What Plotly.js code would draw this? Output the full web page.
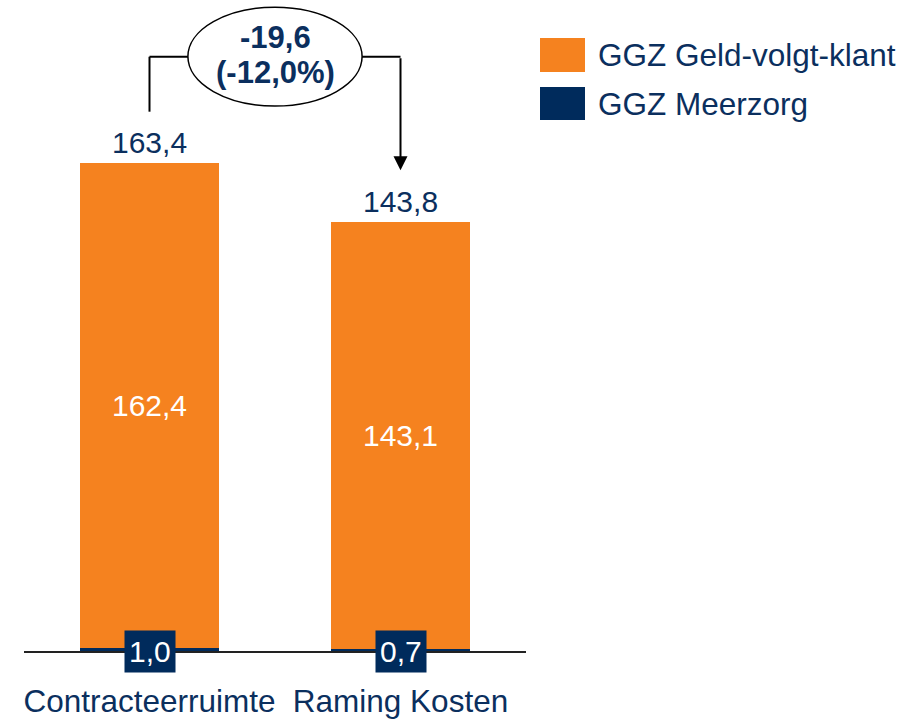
<!DOCTYPE html>
<html>
<head>
<meta charset="utf-8">
<script src="https://cdn.plot.ly/plotly-3.0.1.min.js"></script>
<style>html,body{margin:0;padding:0;background:#fff;}#chart{width:910px;height:720px;}</style>
</head>
<body>
<div id="chart"></div>
<script>
const categories = ['Contracteerruimte', 'Raming Kosten'];
const seriesNames = ['GGZ Geld-volgt-klant', 'GGZ Meerzorg'];
const geldVolgtKlant = [162.4, 143.1];
const meerzorg = [1.0, 0.7];
const totals = [163.4, 143.8];

const ORANGE = '#F5821F';
const NAVY = '#002B5C';
const TEXT_NAVY = '#0B2F5E';
const FONT = 'Liberation Sans, Arial, sans-serif';

const fmt = v => v.toFixed(1).replace('.', ',');
const diff = totals[1] - totals[0];
const pct = diff / totals[0] * 100;

const W = 910, H = 720;
const M = {l: 24, r: 384, t: 0, b: 69};
const pw = W - M.l - M.r, ph = H - M.t - M.b;
const px2paperX = px => (px - M.l) / pw;
const px2paperY = py => (H - M.b - py) / ph;
const yMax = 218;

const traces = [
  {
    type: 'bar', name: seriesNames[1], x: categories, y: meerzorg,
    marker: {color: NAVY}, width: 0.554, hoverinfo: 'x+y+name'
  },
  {
    type: 'bar', name: seriesNames[0], x: categories, y: geldVolgtKlant,
    marker: {color: ORANGE}, width: 0.554,
    text: geldVolgtKlant.map(fmt), textposition: 'inside', insidetextanchor: 'middle',
    textangle: 0, constraintext: 'none',
    insidetextfont: {family: FONT, size: 30, color: '#ffffff'}, hoverinfo: 'x+y+name'
  }
];

const annotations = [];
// totals above bars and Meerzorg labels
categories.forEach((c, i) => {
  annotations.push({x: c, y: totals[i], xref: 'x', yref: 'y', yanchor: 'bottom', yshift: 2,
    text: fmt(totals[i]), showarrow: false, font: {family: FONT, size: 30, color: TEXT_NAVY}});
  annotations.push({x: c, y: 0, xref: 'x', yref: 'y', yanchor: 'middle',
    text: fmt(meerzorg[i]), showarrow: false, bgcolor: NAVY, borderpad: 4,
    font: {family: FONT, size: 30, color: '#ffffff'}});
});

const bracketY = 199;
const offset = 17.2;
// arrow down to second bar
annotations.push({x: 1, y: totals[1] + offset, ax: 1, ay: bracketY, xref: 'x', yref: 'y', axref: 'x', ayref: 'y',
  text: '', showarrow: true, arrowhead: 2, arrowsize: 1.4, arrowwidth: 2, arrowcolor: '#000'});
// ellipse text
annotations.push({x: 0.5, y: bracketY, xref: 'x', yref: 'y', yshift: 19, showarrow: false,
  text: '<b>' + fmt(diff) + '</b>', font: {family: FONT, size: 31, color: TEXT_NAVY}});
annotations.push({x: 0.5, y: bracketY, xref: 'x', yref: 'y', yshift: -16, showarrow: false,
  text: '<b>(' + fmt(pct) + '%)</b>', font: {family: FONT, size: 31, color: TEXT_NAVY}});

// custom legend
const legendItems = [
  {name: seriesNames[0], color: ORANGE, top: 38, bottom: 72},
  {name: seriesNames[1], color: NAVY, top: 87, bottom: 120}
];
const shapes = [
  {type: 'line', xref: 'x', yref: 'y', x0: 0, x1: 0, y0: totals[0] + offset, y1: bracketY, line: {color: '#000', width: 2}},
  {type: 'line', xref: 'x', yref: 'y', x0: 0, x1: 0.16, y0: bracketY, y1: bracketY, line: {color: '#000', width: 2}},
  {type: 'line', xref: 'x', yref: 'y', x0: 0.84, x1: 1, y0: bracketY, y1: bracketY, line: {color: '#000', width: 2}},
  {type: 'circle', xref: 'x', yref: 'y', x0: 0.153, x1: 0.847, y0: 182.5, y1: 215.6,
    line: {color: '#000', width: 1.5}, fillcolor: '#ffffff'}
];
legendItems.forEach(it => {
  shapes.push({type: 'rect', xref: 'paper', yref: 'paper', x0: px2paperX(540), x1: px2paperX(585),
    y0: px2paperY(it.bottom), y1: px2paperY(it.top), fillcolor: it.color, line: {width: 0}});
  annotations.push({xref: 'paper', yref: 'paper', x: px2paperX(596), y: px2paperY((it.top + it.bottom) / 2),
    xanchor: 'left', yanchor: 'middle', showarrow: false, text: it.name,
    font: {family: FONT, size: 31.5, color: TEXT_NAVY}});
});

const layout = {
  width: W, height: H, margin: M,
  paper_bgcolor: '#fff', plot_bgcolor: '#fff',
  barmode: 'stack', showlegend: false,
  font: {family: FONT, color: TEXT_NAVY},
  xaxis: {type: 'category', range: [-0.5, 1.5], showline: true, linecolor: '#222', linewidth: 2,
    ticks: '', showgrid: false, zeroline: false, ticklabelstandoff: 21,
    tickfont: {family: FONT, size: 31.5, color: TEXT_NAVY}},
  yaxis: {range: [0, yMax], visible: false, showgrid: false, zeroline: false},
  shapes: shapes, annotations: annotations
};

Plotly.newPlot('chart', traces, layout, {displayModeBar: false, staticPlot: true});
</script>
</body>
</html>
